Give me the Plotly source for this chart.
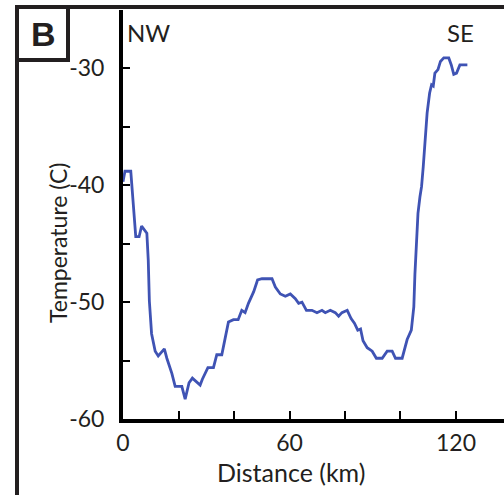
import plotly.graph_objects as go

distance_km = [0.0, 0.7, 2.8, 3.7, 4.6, 5.8, 6.7, 8.6, 9.1, 9.5, 10.3, 11.6, 12.7, 14.9, 15.8,
               17.6, 18.8, 21.2, 22.4, 23.8, 25.0, 27.8, 28.6, 30.6, 32.6, 33.8, 35.6, 36.8,
               38.0, 39.8, 41.5, 42.8, 44.0, 45.2, 47.1, 48.5, 50.1, 53.7, 54.9, 56.7, 58.5,
               60.3, 62.1, 63.3, 64.5, 66.1, 68.1, 69.9, 71.7, 72.9, 74.7, 76.5, 77.7, 78.9,
               80.8, 82.2, 83.4, 84.6, 85.6, 86.5, 88.0, 89.8, 91.3, 93.4, 95.2, 97.0, 98.2,
               100.6, 102.4, 103.9, 104.8, 105.2, 105.7, 106.3, 107.0, 107.6, 108.2, 108.8,
               109.6, 110.5, 111.2, 111.8, 112.4, 113.5, 114.4, 115.6, 117.4, 118.3, 119.2,
               120.2, 121.4, 124.1]
temperature_c = [-39.7, -38.8, -38.8, -42.1, -44.4, -44.4, -43.5, -44.1, -46.4, -49.9, -52.7,
                 -54.2, -54.6, -54.0, -54.8, -56.1, -57.2, -57.2, -58.3, -56.9, -56.5, -57.1,
                 -56.6, -55.6, -55.6, -54.5, -54.5, -53.1, -51.7, -51.5, -51.5, -50.7, -50.9,
                 -50.1, -49.1, -48.1, -48.0, -48.0, -48.7, -49.3, -49.5, -49.3, -49.7, -50.1,
                 -50.0, -50.7, -50.7, -50.9, -50.7, -50.9, -50.7, -50.9, -51.2, -50.9, -50.7,
                 -51.4, -51.8, -52.4, -52.3, -53.3, -53.9, -54.2, -54.8, -54.8, -54.2, -54.2,
                 -54.8, -54.8, -53.2, -52.4, -50.4, -47.6, -44.7, -42.4, -41.0, -40.1, -38.4,
                 -36.1, -33.8, -32.1, -31.4, -31.5, -30.4, -30.1, -29.4, -29.1, -29.1, -29.7,
                 -30.5, -30.4, -29.7, -29.7]

x_tickvals = [0, 60, 120]
x_ticktext = ["0", "60", "120"]
x_minor = [20, 40, 80, 100]
y_tickvals = [-60, -50, -40, -30]
y_ticktext = ["-60", "-50", "-40", "-30"]
y_minor = [-55, -45, -35]

FONT = "Lato"
INK = "#231f20"

# pixel layout helpers (plot area: x 123..504, y 10..419)
L, R, T, B = 123, 504, 10, 419
def px(x):
    return (x - L) / (R - L)
def py(y):
    return (B - y) / (B - T)

fig = go.Figure()
fig.add_trace(go.Scatter(x=distance_km, y=temperature_c, mode="lines",
                         line=dict(color="#3f53b4", width=2.8), showlegend=False))

fig.update_layout(
    width=504, height=495,
    margin=dict(l=L, r=504 - R, t=T, b=495 - B),
    paper_bgcolor="white", plot_bgcolor="white",
    font=dict(family=FONT, size=22, color=INK),
    xaxis=dict(range=[0, 137.3], showline=True, linecolor="black", linewidth=4,
               showgrid=False, zeroline=False, tickvals=x_tickvals, ticktext=x_ticktext,
               ticks="inside", ticklen=8, tickwidth=2, tickcolor="black",
               minor=dict(tickvals=x_minor, ticks="inside", ticklen=8,
                          tickwidth=2, tickcolor="black"),
               tickfont=dict(size=23), ticklabelstandoff=0),
    yaxis=dict(range=[-60, -25], showline=True, linecolor="black", linewidth=4,
               showgrid=False, zeroline=False, tickvals=y_tickvals, ticktext=y_ticktext,
               ticks="inside", ticklen=7, tickwidth=2, tickcolor="black",
               minor=dict(tickvals=y_minor, ticks="inside", ticklen=7,
                          tickwidth=2, tickcolor="black"),
               tickfont=dict(size=23), ticklabelstandoff=10),
)

line = dict(color=INK, width=4)
shapes = [
    dict(type="line", xref="paper", yref="paper", x0=px(17), x1=px(17), y0=py(5), y1=py(500), line=line),
    dict(type="line", xref="paper", yref="paper", x0=px(15), x1=px(504), y0=py(7), y1=py(7), line=line),
    dict(type="rect", xref="paper", yref="paper", x0=px(17), x1=px(68), y0=py(7), y1=py(60), line=line),
]
fig.update_layout(shapes=shapes)

ann = [
    dict(text="<b>B</b>", x=px(43), y=py(34), font=dict(family="Liberation Sans", size=34, color=INK)),
    dict(text="NW", x=px(148), y=py(33), font=dict(size=24)),
    dict(text="SE", x=px(460), y=py(33), font=dict(size=24)),
    dict(text="Temperature (C)", x=px(58), y=py(243), textangle=-90, font=dict(size=23)),
    dict(text="Distance (km)", x=px(291), y=py(472), font=dict(size=25)),
]
for a in ann:
    a.update(xref="paper", yref="paper", showarrow=False, xanchor="center", yanchor="middle")
fig.update_layout(annotations=ann)

fig.write_html("out.html")
